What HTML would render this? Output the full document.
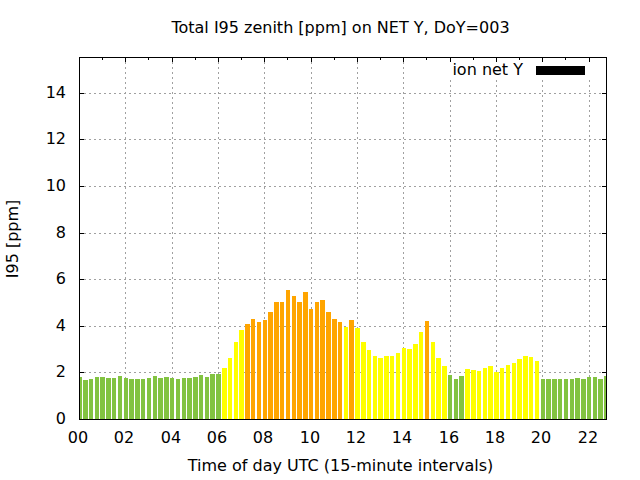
<!DOCTYPE html>
<html lang="en">
<head>
<meta charset="utf-8">
<title>Total I95 zenith [ppm] on NET Y, DoY=003</title>
<style>
html,body{margin:0;padding:0;background:#fff;}
body{width:640px;height:480px;overflow:hidden;font-family:"Liberation Sans",sans-serif;}
svg{display:block;position:absolute;left:0;top:0;}
</style>
</head>
<body>
<svg width="640" height="480" viewBox="0 0 640 480">
<rect width="640" height="480" fill="#fff"/>
<path d="M79 372.5H607 M79 326.5H607 M79 279.5H607 M79 233.5H607 M79 186.5H607 M79 139.5H607 M79 93.5H607" stroke="#a0a0a0" stroke-width="1" stroke-dasharray="2 3" fill="none" shape-rendering="crispEdges"/>
<path d="M125.5 57V419 M172.5 57V419 M218.5 57V419 M264.5 57V419 M311.5 57V419 M357.5 57V419 M403.5 57V419" stroke="#a0a0a0" stroke-width="1" stroke-dasharray="2 3" fill="none" shape-rendering="crispEdges"/>
<path d="M450.5 80V419 M496.5 80V419 M542.5 80V419 M589.5 80V419" stroke="#a0a0a0" stroke-width="1" stroke-dasharray="2 3" fill="none" shape-rendering="crispEdges"/>
<path d="M79 419.5H84M607 419.5H602 M79 372.5H84M607 372.5H602 M79 326.5H84M607 326.5H602 M79 279.5H84M607 279.5H602 M79 233.5H84M607 233.5H602 M79 186.5H84M607 186.5H602 M79 139.5H84M607 139.5H602 M79 93.5H84M607 93.5H602 M79.5 57V62M79.5 420V415 M125.5 57V62M125.5 420V415 M172.5 57V62M172.5 420V415 M218.5 57V62M218.5 420V415 M264.5 57V62M264.5 420V415 M311.5 57V62M311.5 420V415 M357.5 57V62M357.5 420V415 M403.5 57V62M403.5 420V415 M450.5 57V62M450.5 420V415 M496.5 57V62M496.5 420V415 M542.5 57V62M542.5 420V415 M589.5 57V62M589.5 420V415 M102.5 57V60M102.5 420V417 M148.5 57V60M148.5 420V417 M195.5 57V60M195.5 420V417 M241.5 57V60M241.5 420V417 M287.5 57V60M287.5 420V417 M334.5 57V60M334.5 420V417 M380.5 57V60M380.5 420V417 M426.5 57V60M426.5 420V417 M473.5 57V60M473.5 420V417 M519.5 57V60M519.5 420V417 M565.5 57V60M565.5 420V417" stroke="#000" stroke-width="1" fill="none" shape-rendering="crispEdges"/>
<path d="M79 377H82V419H79zM83 380H88V419H83zM89 379H93V419H89zM95 377H99V419H95zM100 377H105V419H100zM106 378H111V419H106zM112 378H116V419H112zM118 376H122V419H118zM124 378H128V419H124zM129 379H134V419H129zM135 379H140V419H135zM141 379H145V419H141zM147 378H151V419H147zM153 376H157V419H153zM158 378H163V419H158zM164 377H169V419H164zM170 378H174V419H170zM176 379H180V419H176zM182 378H186V419H182zM187 378H192V419H187zM193 377H198V419H193zM199 375H203V419H199zM205 377H209V419H205zM210 374H215V419H210zM216 374H221V419H216zM448 375H452V419H448zM454 379H458V419H454zM459 376H464V419H459zM541 379H545V419H541zM546 379H551V419H546zM552 379H557V419H552zM558 379H562V419H558zM564 379H568V419H564zM570 379H574V419H570zM575 378H580V419H575zM581 379H586V419H581zM587 377H591V419H587zM593 377H597V419H593zM598 379H603V419H598zM604 376H607V419H604z" fill="#82c341" shape-rendering="crispEdges"/>
<path d="M222 368H227V419H222zM228 358H232V419H228zM234 342H238V419H234zM239 330H244V419H239zM344 327H348V419H344zM355 328H360V419H355zM361 342H366V419H361zM367 350H371V419H367zM373 356H377V419H373zM378 358H383V419H378zM384 356H389V419H384zM390 356H394V419H390zM396 353H400V419H396zM402 348H406V419H402zM407 349H412V419H407zM413 344H418V419H413zM419 332H423V419H419zM431 342H435V419H431zM436 358H441V419H436zM442 366H447V419H442zM465 369H470V419H465zM471 370H476V419H471zM477 371H481V419H477zM483 368H487V419H483zM488 366H493V419H488zM494 372H499V419H494zM500 368H504V419H500zM506 365H510V419H506zM512 363H516V419H512zM517 359H522V419H517zM523 356H528V419H523zM529 357H533V419H529zM535 361H539V419H535z" fill="#ffff00" shape-rendering="crispEdges"/>
<path d="M245 324H250V419H245zM251 319H255V419H251zM257 322H261V419H257zM263 320H267V419H263zM268 312H273V419H268zM274 302H279V419H274zM280 302H284V419H280zM286 290H290V419H286zM292 296H296V419H292zM297 302H302V419H297zM303 292H308V419H303zM309 309H313V419H309zM315 302H319V419H315zM320 300H325V419H320zM326 312H331V419H326zM332 319H337V419H332zM338 322H342V419H338zM349 320H354V419H349zM425 321H429V419H425z" fill="#ffa500" shape-rendering="crispEdges"/>
<rect x="79.5" y="57.5" width="527" height="362" fill="none" stroke="#000" stroke-width="1" shape-rendering="crispEdges"/>
<rect x="536" y="66" width="49" height="9" fill="#000" shape-rendering="crispEdges"/>
<g font-family="'DejaVu Sans', 'Liberation Sans', sans-serif" font-size="16" fill="#000" stroke="none"><text x="340.5" y="33" text-anchor="middle">Total I95 zenith [ppm] on NET Y, DoY=003</text><text x="340.5" y="471" text-anchor="middle">Time of day UTC (15-minute intervals)</text><text transform="translate(18 239) rotate(-90)" text-anchor="middle">I95 [ppm]</text><text x="523" y="75" text-anchor="end">ion net Y</text><text x="66" y="424" text-anchor="end">0</text><text x="66" y="377" text-anchor="end">2</text><text x="66" y="331" text-anchor="end">4</text><text x="66" y="284" text-anchor="end">6</text><text x="66" y="238" text-anchor="end">8</text><text x="66" y="191" text-anchor="end">10</text><text x="66" y="144" text-anchor="end">12</text><text x="66" y="98" text-anchor="end">14</text><text x="78" y="443" text-anchor="middle">00</text><text x="124" y="443" text-anchor="middle">02</text><text x="171" y="443" text-anchor="middle">04</text><text x="217" y="443" text-anchor="middle">06</text><text x="263" y="443" text-anchor="middle">08</text><text x="310" y="443" text-anchor="middle">10</text><text x="356" y="443" text-anchor="middle">12</text><text x="402" y="443" text-anchor="middle">14</text><text x="449" y="443" text-anchor="middle">16</text><text x="495" y="443" text-anchor="middle">18</text><text x="541" y="443" text-anchor="middle">20</text><text x="588" y="443" text-anchor="middle">22</text></g>
</svg>
</body>
</html>
